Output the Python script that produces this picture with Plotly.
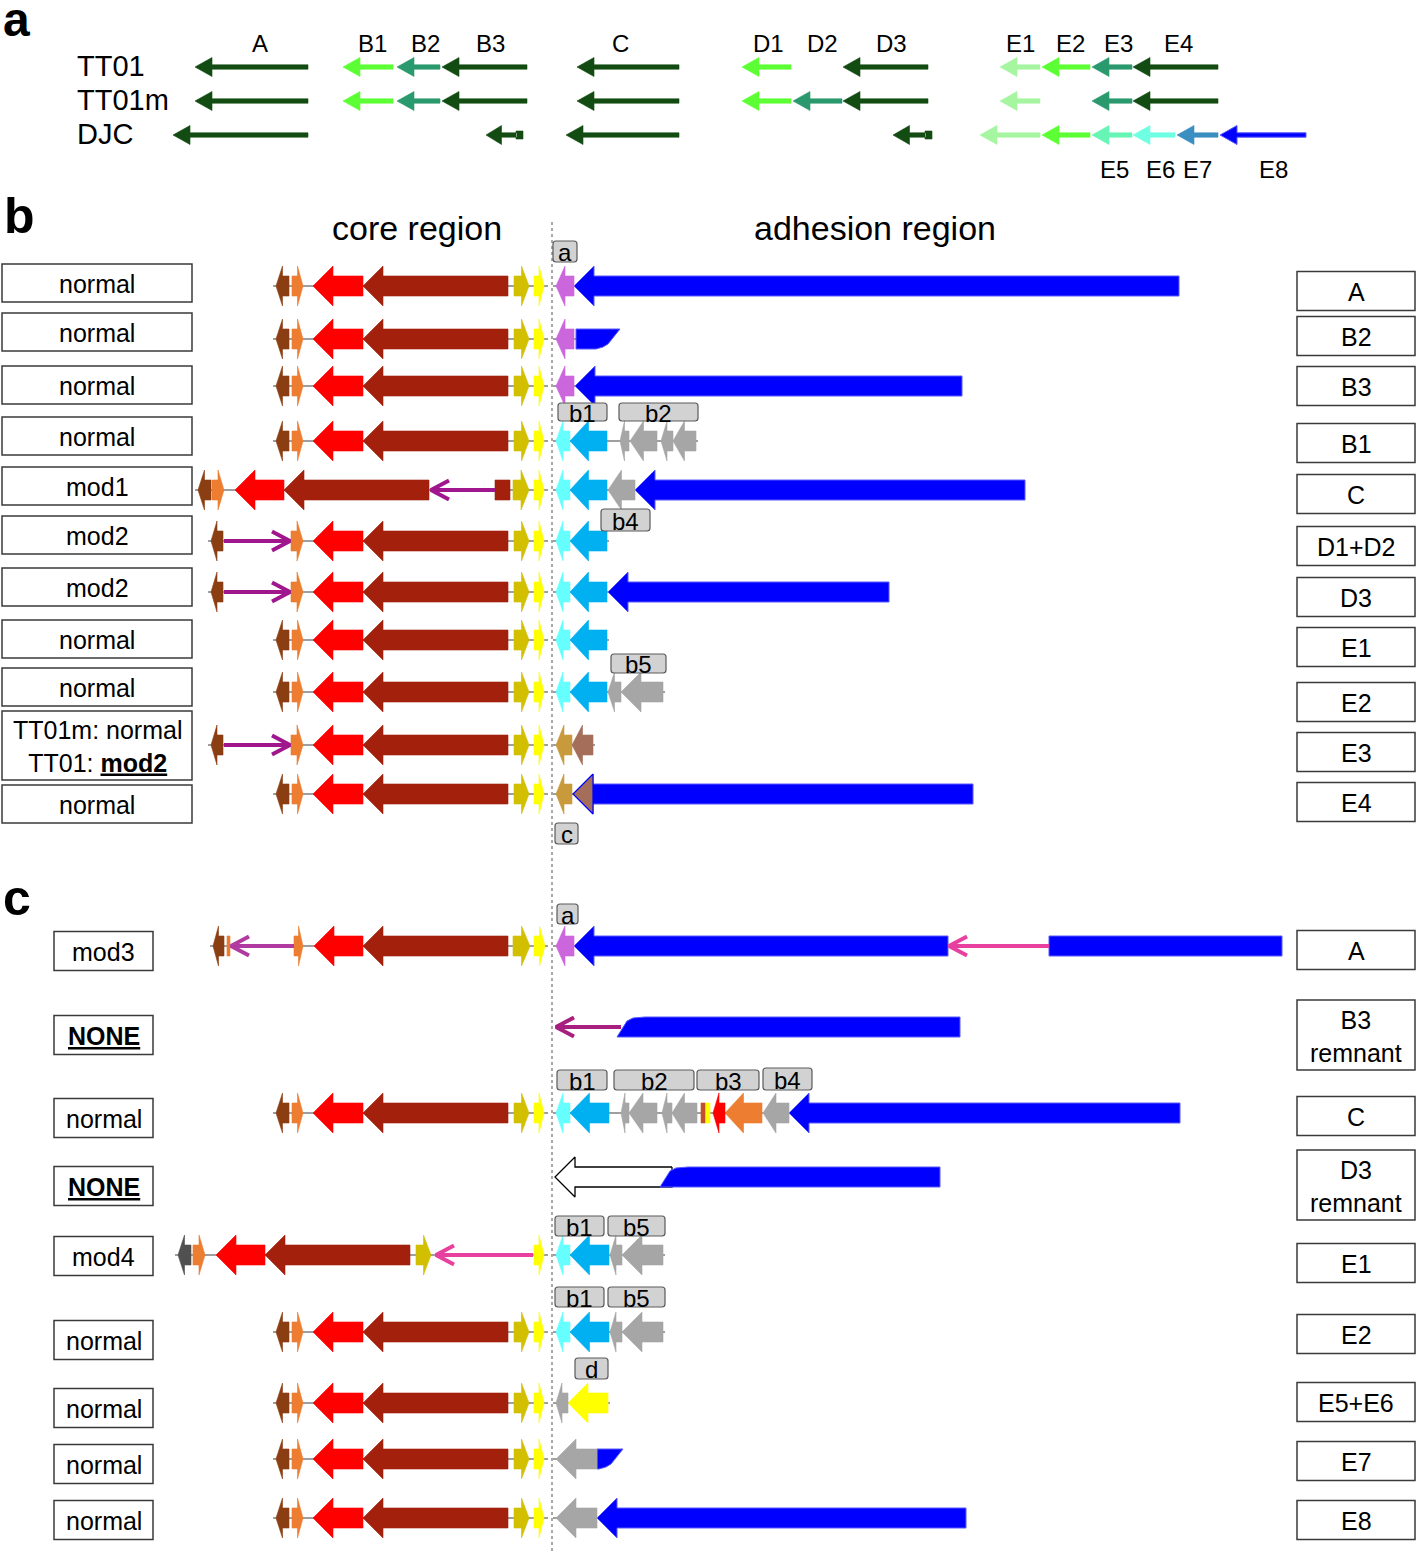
import plotly.graph_objects as go

# ---------------- panel a: loci in the three strains (x_from -> x_to, arrow points to x_to) ----------------
A_STRAINS = ["TT01", "TT01m", "DJC"]
A_ROW_Y = [67, 101, 135]
A_GENES = [
    [(308, 195, "dkgreen"), (393, 343, "lime"), (440, 397, "teal"), (527, 442, "dkgreen"),
     (679, 577, "dkgreen"), (791, 742, "lime"), (928, 843, "dkgreen"),
     (1040, 1000, "pale"), (1090, 1042, "lime"), (1132, 1092, "teal"), (1218, 1133, "dkgreen")],
    [(308, 195, "dkgreen"), (393, 343, "lime"), (440, 397, "teal"), (527, 442, "dkgreen"),
     (679, 577, "dkgreen"), (791, 742, "lime"), (842, 793, "teal"), (928, 843, "dkgreen"),
     (1040, 1000, "pale"), (1132, 1092, "teal"), (1218, 1133, "dkgreen")],
    [(308, 173, "dkgreen"), (679, 566, "dkgreen"),
     (1040, 980, "pale"), (1090, 1042, "lime"), (1132, 1092, "aqua"),
     (1175, 1133, "turq"), (1218, 1177, "steel"), (1306, 1220, "blue")],
]
A_REMNANTS = [(523, 486, 2), (932, 893, 2)]
A_TOP_LABELS = ["A", "B1", "B2", "B3", "C", "D1", "D2", "D3", "E1", "E2", "E3", "E4"]
A_TOP_X = [260, 372, 425, 490, 620, 768, 822, 891, 1020, 1070, 1118, 1178]
A_BOTTOM_LABELS = ["E5", "E6", "E7", "E8"]
A_BOTTOM_X = [1114, 1160, 1197, 1273]

# ---------------- panel b / c: gene clusters ----------------
CORE_NORMAL = [(289, 276, "brown"), (292, 303, "orange"), (363, 313, "red"),
               (508, 363, "darkred"), (514, 529, "olive"), (534, 544, "yellow")]
CORE_MOD1 = [(211, 198, "brown"), (212, 224, "orange"), (284, 235, "red"),
             (429, 284, "darkred"), (513, 529, "olive"), (534, 544, "yellow")]
CORE_MOD2 = [(223, 211, "brown"), (291, 303, "orange"), (363, 313, "red"),
             (508, 363, "darkred"), (514, 529, "olive"), (534, 544, "yellow")]
CORE_MOD3 = [(224, 213, "brown"), (294, 303, "orange"), (363, 314, "red"),
             (508, 363, "darkred"), (513, 530, "olive"), (534, 545, "yellow")]
CORE_MOD4 = [(191, 178, "charcoal"), (193, 205, "orange"), (265, 216, "red"),
             (410, 265, "darkred"), (416, 431, "olive"), (534, 544, "yellow")]

ORCHID = [(574, 556, "orchid")]
CYAN_PAIR = [(570, 556, "cyan"), (607, 570, "deepsky")]

B_ROW_Y = [286, 339, 386, 441, 490, 541, 592, 640, 692, 745, 794]
B_LEFT_LABELS = ["normal", "normal", "normal", "normal", "mod1", "mod2", "mod2", "normal", "normal",
                 "TT01m: normal<br>TT01: <b><u>mod2</u></b>", "normal"]
B_RIGHT_LABELS = ["A", "B2", "B3", "B1", "C", "D1+D2", "D3", "E1", "E2", "E3", "E4"]
B_CORE = [CORE_NORMAL, CORE_NORMAL, CORE_NORMAL, CORE_NORMAL, CORE_MOD1, CORE_MOD2,
          CORE_MOD2, CORE_NORMAL, CORE_NORMAL, CORE_MOD2, CORE_NORMAL]
B_ADHESION = [
    ORCHID + [(1179, 574, "blue")],
    ORCHID,
    ORCHID + [(962, 575, "blue")],
    CYAN_PAIR + [(629, 620, "gray"), (657, 630, "gray"), (673, 661, "gray"), (696, 673, "gray")],
    CYAN_PAIR + [(635, 608, "gray"), (1025, 635, "blue")],
    CYAN_PAIR,
    CYAN_PAIR + [(889, 608, "blue")],
    CYAN_PAIR,
    CYAN_PAIR + [(621, 608, "gray"), (663, 621, "gray")],
    [(572, 556, "gold"), (593, 572, "rosy")],
    [(572, 556, "gold"), (973, 573, "blue")],
]
B_BLOCKS = [(495, 510, 4, "darkred")]
B_LINE_ARROWS = [(495, 431, 4, "purple"), (224, 290, 5, "purple"), (224, 290, 6, "purple"),
                 (224, 290, 9, "purple")]
B_TRUNC = [(576, 620, 1, "right")]
B_HEADS = [(973, 573, 10, "rosyhead")]
B_TAGS = [("a", 553, 577, 241, 262), ("b1", 558, 607, 403, 421), ("b2", 619, 698, 403, 421),
          ("b4", 601, 650, 509, 531), ("b5", 611, 666, 654, 673), ("c", 555, 578, 823, 844)]

C_ROW_Y = [946, 1027, 1113, 1177, 1255, 1332, 1403, 1459, 1518]
C_LEFT_LABELS = ["mod3", "<b><u>NONE</u></b>", "normal", "<b><u>NONE</u></b>", "mod4",
                 "normal", "normal", "normal", "normal"]
C_RIGHT_LABELS = ["A", "B3<br>remnant", "C", "D3<br>remnant", "E1", "E2", "E5+E6", "E7", "E8"]
C_CORE = [CORE_MOD3, [], CORE_NORMAL, [], CORE_MOD4, CORE_NORMAL, CORE_NORMAL, CORE_NORMAL, CORE_NORMAL]
C_ADHESION = [
    ORCHID + [(948, 574, "blue")],
    [],
    [(570, 556, "cyan"), (609, 570, "deepsky"), (629, 621, "gray"), (657, 629, "gray"),
     (672, 662, "gray"), (697, 672, "gray"), (725, 713, "red"), (762, 725, "orange"),
     (789, 763, "gray"), (1180, 789, "blue")],
    [(672, 555, "white")],
    [(570, 556, "cyan"), (609, 570, "deepsky"), (622, 610, "gray"), (663, 622, "gray")],
    [(570, 556, "cyan"), (609, 570, "deepsky"), (622, 610, "gray"), (663, 622, "gray")],
    [(568, 556, "gray"), (608, 568, "yellow")],
    [(597, 556, "gray")],
    [(597, 556, "gray"), (966, 597, "blue")],
]
C_BLOCKS = [(227, 230, 0, "orange"), (1049, 1282, 0, "blue"), (701, 705, 2, "rust"), (705, 710, 2, "yellow")]
C_LINE_ARROWS = [(294, 231, 0, "violet"), (1049, 949, 0, "hotpink"), (621, 556, 1, "plum"),
                 (533, 436, 4, "hotpink")]
C_TRUNC = [(617, 960, 1, "left"), (660, 940, 3, "left"), (597, 623, 7, "right")]
C_TAGS = [("a", 557, 578, 904, 924), ("b1", 557, 607, 1070, 1090), ("b2", 614, 694, 1070, 1090),
          ("b3", 697, 759, 1070, 1090), ("b4", 763, 812, 1068, 1090), ("b1", 555, 604, 1216, 1236),
          ("b5", 608, 665, 1216, 1236), ("b1", 555, 604, 1287, 1307), ("b5", 608, 665, 1287, 1307),
          ("d", 575, 608, 1358, 1379)]

COLORS = {
    "dkgreen": "#124C12", "lime": "#5CFF33", "teal": "#2A9A6E", "pale": "#A6F5A0",
    "aqua": "#66F5B5", "turq": "#6FFFE2", "steel": "#3A8FC0",
    "white": "#FFFFFF", "blue": "#0000FF", "brown": "#8B3E12", "orange": "#ED7D31",
    "red": "#FF0000", "darkred": "#A3200C", "olive": "#D2C000", "yellow": "#FFFF00",
    "orchid": "#CC66DD", "cyan": "#66FFFF", "deepsky": "#00B0F0", "gray": "#A6A6A6",
    "gold": "#C99A3C", "rosy": "#A46E5A", "rosyhead": "#A46E5A", "charcoal": "#505050",
    "rust": "#C0502A", "purple": "#A0168C", "hotpink": "#E8409E", "plum": "#A8207F",
    "violet": "#B03AA0",
}
EDGES = {"white": ("#000000", 1.3), "blue": ("#5A5AFF", 1), "rosyhead": ("#0000FF", 1.2)}
FONT = "Liberation Sans, Arial, sans-serif"

polys = {}


def add_poly(key, xs, ys):
    p = polys.setdefault(key, [[], []])
    p[0].extend(xs + [None])
    p[1].extend(ys + [None])


def gene(x_from, x_to, y, key, body=10, head=20, hl_max=20):
    d = 1 if x_to > x_from else -1
    hl = min(hl_max, 0.5 * abs(x_to - x_from))
    b = x_to - d * hl
    add_poly(key, [x_from, b, b, x_to, b, b, x_from, x_from],
             [y - body, y - body, y - head, y, y + head, y + body, y + body, y - body])


def head_only(x_from, x_to, y, key, head=20, hl_max=20):
    d = 1 if x_to > x_from else -1
    b = x_to - d * min(hl_max, 0.5 * abs(x_to - x_from))
    add_poly(key, [b, x_to, b, b], [y - head, y, y + head, y - head])


def block(x0, x1, y, key, body=10):
    add_poly(key, [x0, x1, x1, x0, x0], [y - body, y - body, y + body, y + body, y - body])


def truncated(x0, x1, y, side, key="blue"):
    if side == "right":
        xs = [x0, x1, x1 - 12, x1 - 17, x1 - 24, x0, x0]
        ys = [y - 10, y - 10, y + 5, y + 8, y + 10, y + 10, y - 10]
    else:
        xs = [x0, x0 + 10, x0 + 16, x0 + 28, x1, x1, x0]
        ys = [y + 10, y - 6, y - 9, y - 10, y - 10, y + 10, y + 10]
    add_poly(key, xs, ys)


backbone_x, backbone_y = [], []
line_arrows = {}


def line_arrow(x_from, x_to, y, key):
    d = 1 if x_to > x_from else -1
    p = line_arrows.setdefault(key, [[], []])
    p[0].extend([x_from, x_to, None, x_to - d * 18, x_to, x_to - d * 18, None])
    p[1].extend([y, y, None, y - 9.5, y, y + 9.5, None])


def draw_rows(row_y, cores, adhesions, blocks, arrows, truncs, heads):
    for y, core, adh in zip(row_y, cores, adhesions):
        if core:
            xs = [v for g in core for v in g[:2]]
            backbone_x.extend([min(xs) - 3, 548, None])
            backbone_y.extend([y, y, None])
        plain = [g for g in adh if g[2] not in ("blue", "white")]
        if plain:
            xs = [v for g in plain for v in g[:2]]
            backbone_x.extend([553, max(xs) + 2, None])
            backbone_y.extend([y, y, None])
        for x_from, x_to, key in core + adh:
            gene(x_from, x_to, y, key)
    for x0, x1, r, key in blocks:
        block(x0, x1, row_y[r], key)
    for x_from, x_to, r, key in arrows:
        line_arrow(x_from, x_to, row_y[r], key)
    for x0, x1, r, side in truncs:
        truncated(x0, x1, row_y[r], side)
    for x_from, x_to, r, key in heads:
        head_only(x_from, x_to, row_y[r], key)


# panel a arrows (thin shafts)
for y, genes in zip(A_ROW_Y, A_GENES):
    for x_from, x_to, key in genes:
        gene(x_from, x_to, y, key, body=2.2, head=9.5, hl_max=17)
for x_from, x_to, r in A_REMNANTS:
    y = A_ROW_Y[r]
    gene(x_from - 6, x_to, y, "dkgreen", body=2.2, head=9.5, hl_max=17)
    block(x_from - 7, x_from, y, "dkgreen", body=4)

draw_rows(B_ROW_Y, B_CORE, B_ADHESION, B_BLOCKS, B_LINE_ARROWS, B_TRUNC, B_HEADS)
draw_rows(C_ROW_Y, C_CORE, C_ADHESION, C_BLOCKS, C_LINE_ARROWS, C_TRUNC, [])

fig = go.Figure()
fig.add_trace(go.Scatter(x=backbone_x, y=backbone_y, mode="lines",
                         line=dict(color="#7F7F7F", width=1.5), hoverinfo="skip"))
order = ["white", "blue"] + [k for k in polys if k not in ("white", "blue", "rosyhead")] + ["rosyhead"]
for key in order:
    if key not in polys:
        continue
    edge, w = EDGES.get(key, (COLORS[key], 0.6))
    fig.add_trace(go.Scatter(x=polys[key][0], y=polys[key][1], mode="lines", fill="toself",
                             fillcolor=COLORS[key], line=dict(color=edge, width=w), hoverinfo="skip"))
for key, (xs, ys) in line_arrows.items():
    fig.add_trace(go.Scatter(x=xs, y=ys, mode="lines", line=dict(color=COLORS[key], width=4),
                             hoverinfo="skip"))

shapes = [dict(type="line", x0=552, x1=552, y0=222, y1=1552, layer="below",
               line=dict(color="#8C8C8C", width=1.5, dash="dot"))]
ann = []


def text(x, y, s, size=25, anchor="center", bold=False):
    ann.append(dict(x=x, y=y, text=f"<b>{s}</b>" if bold else s, showarrow=False, xanchor=anchor,
                    yanchor="middle", font=dict(family=FONT, size=size, color="black")))


def boxes(x0, x1, centers, heights, labels):
    for c, h, lab in zip(centers, heights, labels):
        shapes.append(dict(type="rect", x0=x0, x1=x1, y0=c - h / 2, y1=c + h / 2,
                           line=dict(color="#3A3A3A", width=1.5), fillcolor="white", layer="below"))
        text((x0 + x1) / 2, c + 1, lab, size=25)


def rounded(x0, x1, y0, y1, r=3):
    return (f"M{x0 + r},{y0} L{x1 - r},{y0} Q{x1},{y0} {x1},{y0 + r} L{x1},{y1 - r} "
            f"Q{x1},{y1} {x1 - r},{y1} L{x0 + r},{y1} Q{x0},{y1} {x0},{y1 - r} "
            f"L{x0},{y0 + r} Q{x0},{y0} {x0 + r},{y0} Z")


for lab, x0, x1, y0, y1 in B_TAGS + C_TAGS:
    shapes.append(dict(type="path", path=rounded(x0, x1, y0, y1), fillcolor="#D2D2D2",
                       line=dict(color="#5A5A5A", width=1.2)))
    text((x0 + x1) / 2, (y0 + y1) / 2 + 1, lab, size=24)

# panel a text
for y, s in zip(A_ROW_Y, A_STRAINS):
    text(75, y - 1, s, size=29, anchor="left")
for x, s in zip(A_TOP_X, A_TOP_LABELS):
    text(x, 43, s, size=24)
for x, s in zip(A_BOTTOM_X, A_BOTTOM_LABELS):
    text(x, 169, s, size=24)

# panel letters and region headers
text(1, 19, "a", size=48, anchor="left", bold=True)
text(2, 216, "b", size=50, anchor="left", bold=True)
text(1, 898, "c", size=50, anchor="left", bold=True)
text(417, 228, "core region", size=34)
text(875, 228, "adhesion region", size=34)

boxes(2, 192, [283, 332, 385, 436, 486, 535, 587, 639, 687, 745.5, 804],
      [38] * 9 + [69, 38], B_LEFT_LABELS)
boxes(1297, 1415, [291, 336, 386, 443, 494, 546, 597, 647, 702, 752, 802], [39] * 11, B_RIGHT_LABELS)
boxes(54, 153, [951, 1035, 1118, 1186, 1256, 1340, 1408, 1464, 1520], [39] * 9, C_LEFT_LABELS)
boxes(1297, 1415, [950, 1035, 1116, 1185, 1263, 1334, 1402, 1461, 1520],
      [39, 70, 39, 70, 39, 39, 39, 39, 39], C_RIGHT_LABELS)

fig.update_layout(
    width=1418, height=1557, margin=dict(l=0, r=0, t=0, b=0),
    paper_bgcolor="white", plot_bgcolor="white", showlegend=False,
    xaxis=dict(range=[0, 1418], visible=False, fixedrange=True),
    yaxis=dict(range=[1557, 0], visible=False, fixedrange=True),
    shapes=shapes, annotations=ann,
)
# page has a default 8px body margin; drop it so the figure sits at the window origin
fig.write_html("out.html", config={"displayModeBar": False},
               post_script="document.body.style.margin='0';")
